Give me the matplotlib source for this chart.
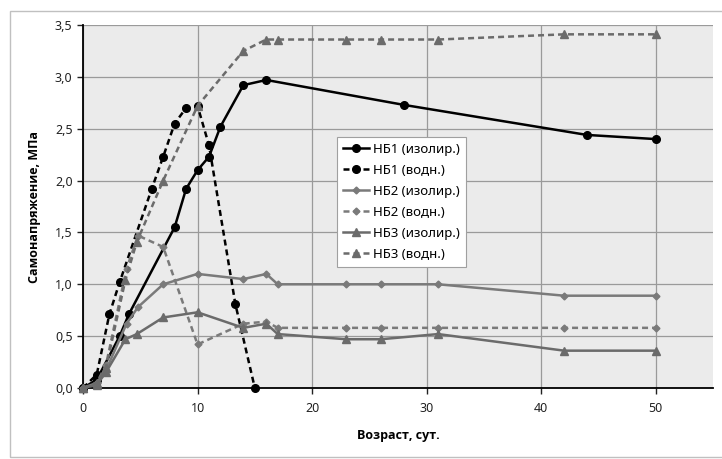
import matplotlib
matplotlib.use("Agg")
import matplotlib.pyplot as plt
from matplotlib.patches import Rectangle
from matplotlib.ticker import FuncFormatter

plt.rcParams['font.family'] = ['Noto Sans', 'DejaVu Sans']

# НБ1
nb1_iso_x = [0, 1.2, 3.2, 4, 8, 9, 10, 11, 12, 14, 16, 28, 44, 50]
nb1_iso_y = [0, 0.08, 0.50, 0.71, 1.55, 1.92, 2.10, 2.23, 2.52, 2.92, 2.97, 2.73, 2.44, 2.40]
nb1_wat_x = [0, 1.2, 2.3, 3.2, 6, 7, 8, 9, 10, 11, 13.3, 15]
nb1_wat_y = [0, 0.13, 0.71, 1.02, 1.92, 2.23, 2.55, 2.70, 2.72, 2.34, 0.81, 0.0]

# НБ2
nb2_iso_x = [0, 1.2, 2, 3.8, 4.8, 7, 10, 14, 16, 17, 23, 26, 31, 42, 50]
nb2_iso_y = [0, 0.05, 0.17, 0.62, 0.78, 1.00, 1.10, 1.05, 1.10, 1.00, 1.00, 1.00, 1.00, 0.89, 0.89]
nb2_wat_x = [0, 1.2, 2, 3.8, 4.8, 7, 10, 14, 16, 17, 23, 26, 31, 42, 50]
nb2_wat_y = [0, 0.05, 0.22, 1.15, 1.47, 1.36, 0.42, 0.62, 0.64, 0.58, 0.58, 0.58, 0.58, 0.58, 0.58]

# НБ3
nb3_iso_x = [0, 1.2, 2, 3.7, 4.7, 7, 10, 14, 16, 17, 23, 26, 31, 42, 50]
nb3_iso_y = [0, 0.03, 0.15, 0.47, 0.52, 0.68, 0.73, 0.58, 0.62, 0.52, 0.47, 0.47, 0.52, 0.36, 0.36]
nb3_wat_x = [0, 1.2, 2, 3.7, 4.7, 7, 10, 14, 16, 17, 23, 26, 31, 42, 50]
nb3_wat_y = [0, 0.05, 0.19, 1.04, 1.41, 2.00, 2.72, 3.25, 3.36, 3.36, 3.36, 3.36, 3.36, 3.41, 3.41]

labels = ['НБ1 (изолир.)', 'НБ1 (водн.)', 'НБ2 (изолир.)',
          'НБ2 (водн.)', 'НБ3 (изолир.)', 'НБ3 (водн.)']

fig = plt.figure(figsize=(7.22, 4.59), dpi=100)
fig.patches.append(Rectangle((10 / 722, 2 / 459), 1.0, 446 / 459, transform=fig.transFigure,
                             fill=False, edgecolor='#c0c0c0', linewidth=1.0))
ax = fig.add_axes([83 / 722, 1 - 388 / 459, 630 / 722, 363 / 459])
ax.set_facecolor('#ebebeb')

dash = (0, (2.4, 1.6))
gray2 = '#7a7a7a'
gray3 = '#6b6b6b'
kw = dict(lw=1.8, clip_on=False, zorder=3)
ax.plot(nb1_iso_x, nb1_iso_y, color='black', marker='o', ms=5.5, label=labels[0], **kw)
ax.plot(nb1_wat_x, nb1_wat_y, color='black', ls=dash, marker='o', ms=5.5, label=labels[1], **kw)
ax.plot(nb2_iso_x, nb2_iso_y, color=gray2, marker='D', ms=3.5, label=labels[2], **kw)
ax.plot(nb2_wat_x, nb2_wat_y, color=gray2, ls=dash, marker='D', ms=3.5, label=labels[3], **kw)
ax.plot(nb3_iso_x, nb3_iso_y, color=gray3, marker='^', ms=5.5, label=labels[4], **kw)
ax.plot(nb3_wat_x, nb3_wat_y, color=gray3, ls=dash, marker='^', ms=5.5, label=labels[5], **kw)

ax.set_xlim(0, 55)
ax.set_ylim(0, 3.5)
ax.set_xticks(range(0, 51, 10))
ax.set_yticks([i * 0.5 for i in range(8)])
ax.yaxis.set_major_formatter(FuncFormatter(lambda v, p: f'{v:.1f}'.replace('.', ',')))
ax.grid(True, color='#9a9a9a', lw=0.9)
ax.set_axisbelow(True)
for s in ['top', 'right']:
    ax.spines[s].set_visible(False)
for s in ['left', 'bottom']:
    ax.spines[s].set_linewidth(1.3)
    ax.spines[s].set_zorder(2.5)
ax.tick_params(direction='out', length=4, width=1, labelsize=9, colors='#222222')
ax.tick_params(axis='x', pad=6)

bold_font = dict(family=['Open Sans', 'DejaVu Sans'], size=9, weight='bold')
ax.set_xlabel('Возраст, сут.', fontdict=bold_font, labelpad=10)
ax.set_ylabel('Самонапряжение, МПа', fontdict=bold_font, labelpad=10)

leg = ax.legend(loc='upper left', bbox_to_anchor=(0.403, 0.691), fontsize=9.5,
                fancybox=False, framealpha=1, edgecolor='#a0a0a0', handlelength=2.0,
                handletextpad=0.3, borderpad=0.45, labelspacing=0.6, borderaxespad=0)
leg.get_frame().set_linewidth(0.8)

fig.savefig('out.png', dpi=100)
